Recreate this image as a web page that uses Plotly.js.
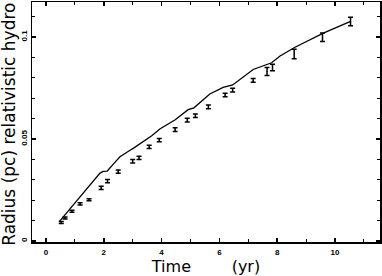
<!DOCTYPE html>
<html><head><meta charset="utf-8">
<script src="https://cdn.plot.ly/plotly-3.0.1.min.js"></script>
<style>html,body{margin:0;padding:0;background:#fff}#c{width:382px;height:276px}</style>
</head><body><div id="c"></div>
<script>
// Observed radii with error bars
const obsTime = [0.53,0.66,0.90,1.18,1.49,1.91,2.13,2.50,3.00,3.22,3.57,3.92,4.47,4.89,5.17,5.62,6.20,6.46,7.17,7.65,7.84,8.59,9.57,10.54];
const obsRadius = [0.0091,0.0113,0.0146,0.0182,0.0202,0.0261,0.0294,0.0340,0.0391,0.0408,0.0461,0.0495,0.0546,0.0593,0.0614,0.0658,0.0716,0.0740,0.0788,0.0831,0.0851,0.0917,0.0999,0.1076];
const obsErr = [0.0005,0.0005,0.0005,0.0005,0.0005,0.0008,0.0008,0.0008,0.0008,0.0008,0.0008,0.0008,0.0009,0.0009,0.0009,0.0009,0.0009,0.0009,0.0009,0.0020,0.0016,0.0023,0.0021,0.0021];
// Relativistic hydro model curve
const modelTime = [0.46,0.83,1.00,1.41,1.87,1.98,2.12,2.33,2.56,2.91,3.02,3.66,3.94,4.46,4.92,5.12,5.39,5.67,6.13,6.46,7.17,7.81,8.10,8.62,9.58,10.06,10.54];
const modelRadius = [0.0095,0.0157,0.0190,0.0255,0.0333,0.0341,0.0343,0.0377,0.0413,0.0445,0.0454,0.0516,0.0549,0.0593,0.0644,0.0653,0.0688,0.0721,0.0753,0.0765,0.0841,0.0874,0.0907,0.0950,0.1018,0.1048,0.1077];
const xTickVals = [0,2,4,6,8,10];
const xTickText = ['0','2','4','6','8','10'];
const yTickVals = [0,0.05,0.1];
const yTickText = ['0','0.05','0.1'];
const xTitle = 'Time\u00A0\u00A0\u00A0\u00A0\u00A0\u00A0\u00A0\u00A0(yr)';
const yTitle = 'Radius (pc) relativistic hydro';

const traces = [
  {x: modelTime, y: modelRadius, mode: 'lines', line: {color: '#000', width: 1.3}, hoverinfo: 'skip'},
  {x: obsTime, y: obsRadius, mode: 'markers', marker: {color: '#000', size: 1},
   error_y: {type: 'data', array: obsErr, visible: true, color: '#000', thickness: 1.5, width: 2.5}}
];
const layout = {
  width: 382, height: 276,
  margin: {l: 32, r: 2, t: 2, b: 34},
  paper_bgcolor: '#fff', plot_bgcolor: '#fff',
  showlegend: false,
  xaxis: {
    range: [-0.484, 11.56], showgrid: false, zeroline: false,
    showline: true, linecolor: '#000', linewidth: 1.5, mirror: 'allticks',
    ticks: 'inside', ticklen: 4, tickwidth: 1.5, tickcolor: '#000',
    tickvals: xTickVals, ticktext: xTickText, ticklabelstandoff: 2,
    tickfont: {family: 'Liberation Sans, Arial, sans-serif', size: 8, color: '#000', weight: 'bold'},
    minor: {dtick: 1, tick0: 0, ticks: 'inside', ticklen: 3, tickwidth: 1, tickcolor: '#000'},
    title: {text: xTitle, standoff: 3,
      font: {family: 'DejaVu Sans, sans-serif', size: 16, color: '#000'}}
  },
  yaxis: {
    range: [-0.0005, 0.1172], showgrid: false, zeroline: false,
    showline: true, linecolor: '#000', linewidth: 1.5, mirror: 'allticks',
    ticks: 'inside', ticklen: 4, tickwidth: 1.5, tickcolor: '#000',
    tickvals: yTickVals, ticktext: yTickText, tickangle: -90, ticklabelstandoff: 5.5,
    tickfont: {family: 'Liberation Sans, Arial, sans-serif', size: 8, color: '#000', weight: 'bold'},
    minor: {dtick: 0.01, tick0: 0, ticks: 'inside', ticklen: 3, tickwidth: 1, tickcolor: '#000'}
  },
  annotations: [{
    text: yTitle, xref: 'paper', yref: 'paper', x: -0.065, y: 0.49,
    xanchor: 'center', yanchor: 'middle', textangle: -90, showarrow: false,
    font: {family: 'DejaVu Sans, sans-serif', size: 17, color: '#000'}
  }]
};
Plotly.newPlot('c', traces, layout, {staticPlot: true});
</script></body></html>
